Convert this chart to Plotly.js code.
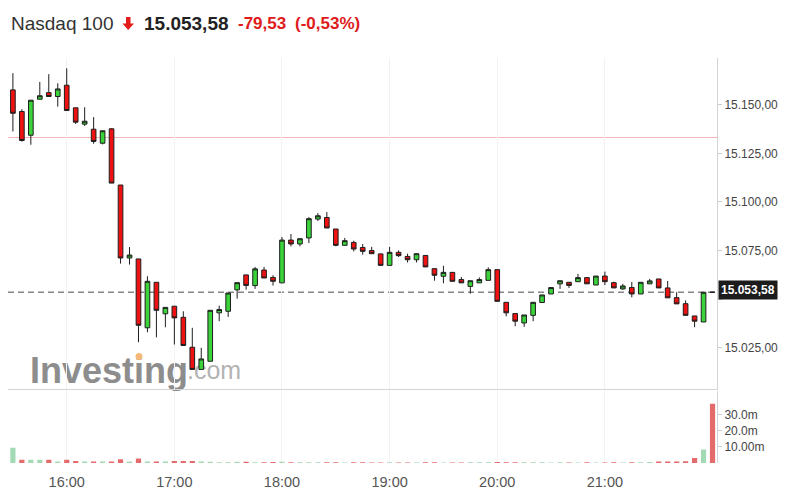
<!DOCTYPE html>
<html>
<head>
<meta charset="utf-8">
<script src="https://cdn.plot.ly/plotly-3.0.1.min.js"></script>
<style>html,body{margin:0;padding:0;background:#fff;}#chart{width:790px;height:501px;}</style>
</head>
<body>
<div id="chart"></div>
<script>
// 5-minute bars, Nasdaq 100
const times = ['15:30','15:35','15:40','15:45','15:50','15:55',
  '16:00','16:05','16:10','16:15','16:20','16:25','16:30','16:35','16:40','16:45','16:50','16:55',
  '17:00','17:05','17:10','17:15','17:20','17:25','17:30','17:35','17:40','17:45','17:50','17:55',
  '18:00','18:05','18:10','18:15','18:20','18:25','18:30','18:35','18:40','18:45','18:50','18:55',
  '19:00','19:05','19:10','19:15','19:20','19:25','19:30','19:35','19:40','19:45','19:50','19:55',
  '20:00','20:05','20:10','20:15','20:20','20:25','20:30','20:35','20:40','20:45','20:50','20:55',
  '21:00','21:05','21:10','21:15','21:20','21:25','21:30','21:35','21:40','21:45','21:50','21:55',
  '22:00'];
const opens = [15157.6,15146.5,15134.3,15152.8,15156.2,15154.2,
  15160.0,15148.4,15140.0,15137.4,15130.2,15137.6,15108.7,15071.2,15070.7,15035.3,15058.7,15042.5,
  15046.4,15040.7,15025.3,15013.9,15018.1,15043.0,15043.8,15054.8,15062.5,15057.0,15065.0,15061.2,
  15058.4,15080.4,15078.4,15081.5,15091.2,15092.0,15086.1,15077.7,15079.2,15076.6,15075.0,15073.3,
  15067.4,15074.1,15072.0,15070.3,15072.5,15065.7,15061.8,15063.8,15060.1,15056.6,15058.4,15059.7,
  15065.2,15048.4,15042.6,15037.8,15041.7,15048.3,15052.7,15057.9,15058.7,15059.0,15061.1,15057.3,
  15061.9,15058.5,15055.3,15056.0,15052.7,15057.9,15060.4,15055.8,15050.8,15047.7,15041.4,15038.3,
  15053.58];
const highs = [15166.2,15147.7,15152.3,15161.7,15165.7,15161.0,
  15168.7,15148.4,15148.7,15143.6,15136.6,15137.9,15108.7,15076.8,15070.7,15061.8,15058.7,15045.8,
  15046.4,15043.8,15035.3,15025.0,15044.3,15046.7,15053.2,15058.5,15062.5,15066.6,15066.6,15062.3,
  15082.0,15083.5,15081.1,15092.2,15094.3,15094.8,15086.1,15081.5,15080.1,15078.4,15076.9,15073.3,
  15076.9,15075.1,15073.4,15073.4,15072.5,15065.7,15067.2,15063.8,15061.4,15059.5,15061.2,15066.4,
  15065.2,15048.4,15042.6,15041.9,15048.4,15052.2,15056.0,15059.5,15058.7,15063.0,15061.1,15061.9,
  15064.2,15059.0,15057.9,15058.9,15058.7,15060.4,15060.4,15059.4,15053.6,15049.4,15041.4,15053.58,
  15053.58];
const lows = [15136.2,15131.0,15129.4,15152.8,15154.2,15149.0,
  15147.0,15140.1,15139.1,15129.9,15129.6,15109.7,15068.3,15067.8,15027.9,15033.0,15030.4,15035.6,
  15026.7,15026.2,15013.9,15013.9,15018.1,15038.7,15040.9,15050.3,15054.9,15055.3,15060.9,15057.0,
  15058.4,15077.2,15077.2,15078.9,15090.2,15086.6,15077.2,15077.7,15074.6,15072.9,15073.4,15067.4,
  15067.4,15071.7,15068.9,15068.9,15066.6,15059.5,15058.2,15059.2,15058.4,15052.9,15058.4,15059.7,
  15048.9,15041.2,15036.1,15035.8,15038.7,15048.3,15052.7,15055.3,15055.8,15059.0,15057.9,15057.3,
  15057.3,15055.8,15054.8,15051.0,15052.7,15057.9,15055.8,15050.7,15047.6,15041.7,15035.6,15038.3,
  15053.58];
const closes = [15145.6,15131.6,15152.3,15154.6,15154.2,15158.1,
  15147.0,15141.0,15141.5,15131.1,15136.6,15109.7,15071.2,15072.7,15036.6,15059.2,15044.3,15045.8,
  15040.4,15026.2,15013.9,15019.3,15044.3,15044.7,15053.2,15058.5,15057.1,15065.6,15060.9,15059.2,
  15080.4,15078.4,15081.1,15091.4,15092.9,15086.6,15077.7,15080.1,15075.8,15074.6,15073.4,15067.4,
  15074.1,15072.4,15070.3,15073.4,15066.6,15062.3,15063.8,15059.2,15058.4,15059.5,15060.1,15065.2,
  15048.9,15043.0,15038.7,15041.9,15048.4,15052.2,15056.0,15059.5,15057.1,15061.1,15057.9,15061.9,
  15059.0,15055.8,15056.8,15052.7,15058.7,15059.4,15055.8,15050.7,15047.6,15041.7,15038.7,15053.58,
  15053.58];
// volume in millions
const volumes = [9.5,2,2,2,2,1,
  2,1.2,1,1,1,1,2.3,1,2.8,1,1,1,
  1.2,1.2,1.2,1,0.8,0.5,0.5,0.8,0.8,0.5,0.5,0.6,
  0.8,0.5,0.4,0.4,0.5,0.4,0.4,0.3,0.4,0.4,0.3,0.3,
  0.4,0.3,0.3,0.3,0.4,0.4,0.3,0.3,0.3,0.4,0.4,0.5,
  0.6,0.5,0.4,0.4,0.4,0.4,0.3,0.4,0.3,0.3,0.4,0.3,
  0.3,0.4,0.3,0.4,0.5,0.6,1,1,1,1.1,3.2,8.5,
  37];
const prevClose = 15133.11;
const lastPrice = 15053.58;
const priceTicks = [15025,15050,15075,15100,15125,15150];
const priceTickText = ['15.025,00','','15.075,00','15.100,00','15.125,00','15.150,00'];
const volTicks = [10,20,30];
const volTickText = ['10.00m','20.0m','30.0m'];
const hourTicks = ['16:00','17:00','18:00','19:00','20:00','21:00'];

const DAY = '2021-05-11 ';
const xs = times.map(t => DAY + t);
const UP = '#a4d9b6', DOWN = '#e36b6b';
const volColors = closes.map((c, i) => c > (i === 0 ? prevClose : closes[i-1]) ? UP : DOWN);

// pixel -> paper helpers (plot area: x 8..717, y 58..463)
const L = 8, R = 717, T = 58, B = 463;
const px = p => (p - L) / (R - L);
const py = p => (B - p) / (B - T);

const candle = {
  type: 'candlestick', x: xs, open: opens, high: highs, low: lows, close: closes,
  xaxis: 'x', yaxis: 'y',
  increasing: {line: {color: '#1e1e1e', width: 1}, fillcolor: '#3ad43a'},
  decreasing: {line: {color: '#1e1e1e', width: 1}, fillcolor: '#ee1111'},
  whiskerwidth: 0, hoverinfo: 'none'
};
const vol = {
  type: 'bar', x: xs, y: volumes, xaxis: 'x2', yaxis: 'y2',
  marker: {color: volColors, line: {width: 0}}, hoverinfo: 'none'
};

const font = 'Liberation Sans, Arial, sans-serif';
const layout = {
  width: 790, height: 501,
  margin: {l: L, r: 790 - R, t: T, b: 501 - B},
  paper_bgcolor: '#ffffff', plot_bgcolor: 'rgba(0,0,0,0)',
  showlegend: false, separators: ',.',
  font: {family: font, color: '#444'},
  boxgap: 0.26, bargap: 0.42,
  xaxis: {
    type: 'date', anchor: 'y', range: [DAY + '15:27:16', DAY + '22:02:30'],
    rangeslider: {visible: false}, showticklabels: false,
    showgrid: true, gridcolor: '#f2f2f2', gridwidth: 1,
    tickvals: hourTicks.map(t => DAY + t), ticks: '',
    showline: true, linecolor: '#d4d4d4', linewidth: 1, fixedrange: true
  },
  xaxis2: {
    type: 'date', anchor: 'y2', matches: 'x',
    showgrid: true, gridcolor: '#f2f2f2',
    tickvals: hourTicks.map(t => DAY + t), ticktext: hourTicks,
    tickfont: {size: 14.5, color: '#555'},
    ticks: 'outside', ticklen: 6, tickcolor: 'rgba(0,0,0,0)',
    showline: false, fixedrange: true
  },
  yaxis: {
    domain: [0.183, 1], range: [15003.9, 15174.0], side: 'right',
    showline: true, linecolor: '#d4d4d4', linewidth: 1,
    ticks: 'outside', ticklen: 4, tickcolor: '#cccccc',
    tickvals: priceTicks, ticktext: priceTickText,
    tickfont: {size: 12, color: '#444'},
    showgrid: false, zeroline: false, fixedrange: true
  },
  yaxis2: {
    domain: [0, 0.179], range: [0, 45.3], side: 'right',
    showline: true, linecolor: '#d4d4d4', linewidth: 1,
    ticks: 'outside', ticklen: 4, tickcolor: '#cccccc',
    tickvals: volTicks, ticktext: volTickText,
    tickfont: {size: 12, color: '#444'},
    showgrid: false, zeroline: false, fixedrange: true
  },
  shapes: [
    {type: 'rect', xref: 'paper', yref: 'paper', x0: px(27), x1: px(190), y0: py(386), y1: py(348),
      line: {width: 0}, fillcolor: 'rgba(0,0,0,0)', layer: 'below',
      label: {text: 'Investing', textposition: 'middle left', padding: 0,
        font: {family: font, size: 36, color: '#8d8d8d', weight: 'bold'}}},
    {type: 'rect', xref: 'paper', yref: 'paper', x0: px(184), x1: px(240), y0: py(386), y1: py(350),
      line: {width: 0}, fillcolor: 'rgba(0,0,0,0)', layer: 'below',
      label: {text: '.com', textposition: 'middle left', padding: 0,
        font: {family: font, size: 25, color: '#b3b3b3'}}},
    {type: 'circle', xref: 'paper', yref: 'paper', x0: px(135.5), x1: px(142.5), y0: py(360), y1: py(353),
      line: {width: 0}, fillcolor: '#f6b97a', layer: 'below'},
    {type: 'line', xref: 'paper', yref: 'y', x0: 0, x1: 1, y0: prevClose, y1: prevClose,
      line: {color: '#f4b4b4', width: 1}, layer: 'below'},
    {type: 'line', xref: 'paper', yref: 'y', x0: 0, x1: 1, y0: lastPrice, y1: lastPrice,
      line: {color: '#858585', width: 1.5, dash: '6px,4px'}, layer: 'below'},
    {type: 'path', xref: 'paper', yref: 'paper', layer: 'above',
      path: 'M' + px(126) + ',' + py(17) + ' L' + px(130.5) + ',' + py(17) + ' L' + px(130.5) + ',' + py(23.5) +
            ' L' + px(134) + ',' + py(23.5) + ' L' + px(128.2) + ',' + py(30) + ' L' + px(122.5) + ',' + py(23.5) +
            ' L' + px(126) + ',' + py(23.5) + ' Z',
      fillcolor: '#e31b1b', line: {width: 0}}
  ],
  annotations: [
    {xref: 'paper', yref: 'paper', x: px(10), y: py(23), xanchor: 'left', yanchor: 'middle', showarrow: false,
      text: 'Nasdaq 100', font: {family: font, size: 19, color: '#333'}, borderpad: 0},
    {xref: 'paper', yref: 'paper', x: px(143), y: py(23), xanchor: 'left', yanchor: 'middle', showarrow: false,
      text: '<b>15.053,58</b>', font: {family: font, size: 19, color: '#222'}, borderpad: 0},
    {xref: 'paper', yref: 'paper', x: px(237), y: py(23), xanchor: 'left', yanchor: 'middle', showarrow: false,
      text: '<b>-79,53</b>', font: {family: font, size: 17, color: '#e01b1b'}, borderpad: 0},
    {xref: 'paper', yref: 'paper', x: px(294), y: py(23), xanchor: 'left', yanchor: 'middle', showarrow: false,
      text: '<b>(-0,53%)</b>', font: {family: font, size: 17, color: '#e01b1b'}, borderpad: 0},
    {xref: 'paper', yref: 'y', x: 1, y: lastPrice, xanchor: 'left', yanchor: 'middle', showarrow: false,
      xshift: 1, yshift: 2,
      text: '<b>15.053,58</b>', font: {family: font, size: 12, color: '#ffffff'},
      bgcolor: '#1c1c1c', borderpad: 2}
  ]
};

Plotly.newPlot('chart', [candle, vol], layout, {staticPlot: true, displayModeBar: false});
</script>
</body>
</html>
